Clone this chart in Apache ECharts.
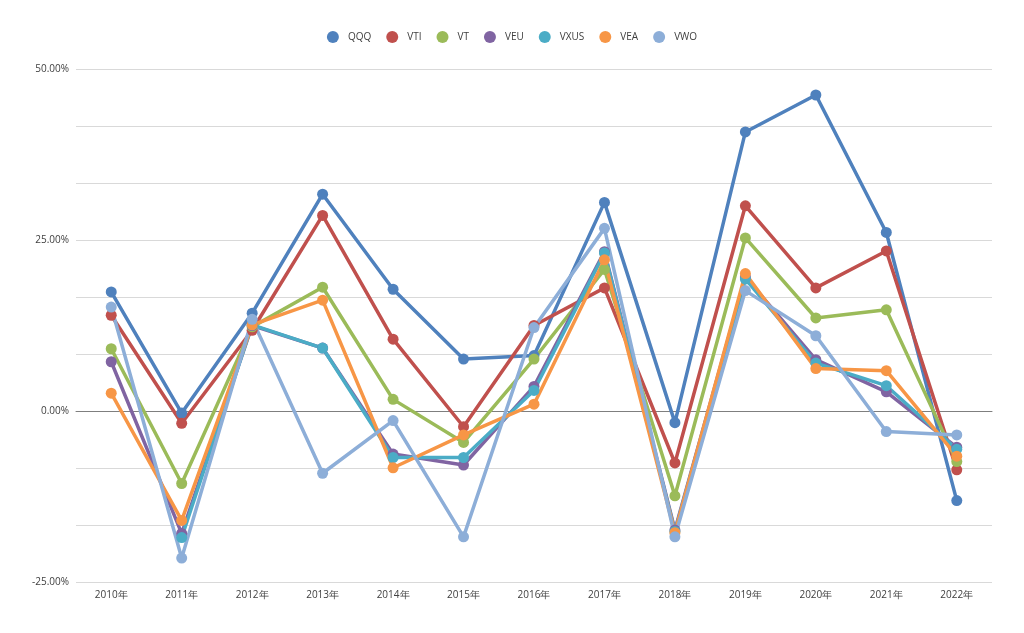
<!DOCTYPE html>
<html>
<head>
<meta charset="utf-8">
<script src="https://cdn.jsdelivr.net/npm/echarts@6/dist/echarts.min.js"></script>
<style>html,body{margin:0;padding:0;background:#fff}#c{width:1024px;height:633px}</style>
</head>
<body>
<div id="c"></div>
<script>
const categories = ['2010年','2011年','2012年','2013年','2014年','2015年','2016年','2017年','2018年','2019年','2020年','2021年','2022年'];
const QQQ  = [17.4, -0.3, 14.3, 31.7, 17.8, 7.6, 8.1, 30.5, -1.7, 40.8, 46.2, 26.1, -13.1];
const VTI  = [14.0, -1.8, 11.8, 28.6, 10.5, -2.3, 12.5, 18.0, -7.6, 30.0, 18.0, 23.4, -8.6];
const VT   = [9.1, -10.6, 12.3, 18.1, 1.7, -4.6, 7.6, 20.7, -12.4, 25.3, 13.6, 14.8, -7.4];
const VEU  = [7.2, -17.9, 12.5, 9.2, -6.3, -7.9, 3.6, 23.3, -17.4, 19.6, 7.5, 2.8, -5.3];
const VXUS = [null, -18.5, 12.6, 9.2, -6.8, -6.8, 3.0, 23.1, -17.6, 19.3, 7.0, 3.7, -5.6];
const VEA  = [2.6, -16.0, 12.6, 16.2, -8.3, -3.5, 1.0, 22.1, -17.8, 20.1, 6.2, 5.9, -6.6];
const VWO  = [15.2, -21.5, 13.4, -9.1, -1.4, -18.4, 12.2, 26.7, -18.4, 17.6, 11.0, -3.0, -3.5];
const seriesNames = ['QQQ','VTI','VT','VEU','VXUS','VEA','VWO'];
const seriesData = [QQQ, VTI, VT, VEU, VXUS, VEA, VWO];
const colors = ['#4F81BD','#C0504D','#9BBB59','#8064A2','#4BACC6','#F79646','#8DAED8'];
const yTickLabels = [-25, 0, 25, 50];

const chart = echarts.init(document.getElementById('c'));
const font = "'Open Sans', 'Noto Sans', sans-serif";
chart.setOption({
  animation: false,
  color: colors,
  textStyle: {fontFamily: font},
  legend: {
    top: 26, left: 'center',
    icon: 'circle', itemWidth: 12, itemHeight: 12, itemGap: 15,
    textStyle: {fontSize: 10, color: '#404040', fontFamily: font, padding: [0, 0, 0, 4]},
    data: seriesNames
  },
  grid: {left: 76, right: 32, top: 69, bottom: 51, containLabel: false},
  xAxis: [{
    type: 'category', data: categories, boundaryGap: true,
    axisLine: {show: false, onZero: false},
    axisTick: {show: false},
    axisLabel: {fontSize: 10, color: '#404040', margin: 8, fontFamily: font}
  }, {
    type: 'category', data: categories, boundaryGap: true, position: 'bottom',
    axisLine: {show: true, onZero: true, lineStyle: {color: '#7f7f7f', width: 1}},
    axisTick: {show: false}, axisLabel: {show: false}
  }],
  yAxis: {
    type: 'value', min: -25, max: 50, interval: 25/3,
    axisLine: {show: false}, axisTick: {show: false},
    splitLine: {lineStyle: {color: '#d9d9d9', width: 1}},
    axisLabel: {
      fontSize: 10, color: '#404040', margin: 7, fontFamily: font,
      formatter: function (v) {
        for (const t of yTickLabels) { if (Math.abs(v - t) < 1e-6) return t.toFixed(2) + '%'; }
        return '';
      }
    }
  },
  series: seriesData.map((d, i) => ({
    name: seriesNames[i], type: 'line', data: d,
    symbol: 'circle', symbolSize: 11,
    lineStyle: {width: 3.5, color: colors[i]},
    itemStyle: {color: colors[i]},
    connectNulls: false
  }))
});
</script>
</body>
</html>
